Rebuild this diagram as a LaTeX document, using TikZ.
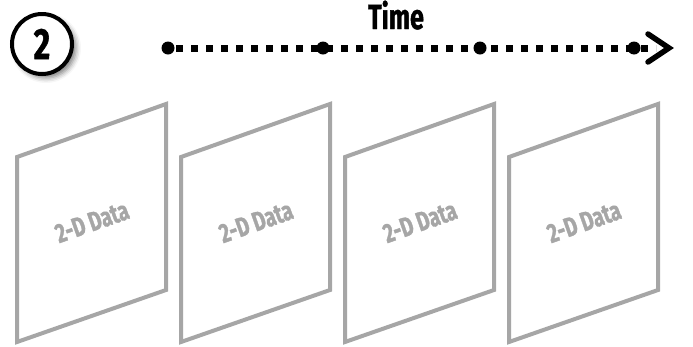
\documentclass[tikz,border=0pt]{standalone}
\usepackage{fontspec}
\newfontfamily\condfont[FakeStretch=0.72]{Fira Sans}
\newfontfamily\heavyfont[FakeStretch=0.72,FakeBold=1.2]{Fira Sans}
\usetikzlibrary{shadows.blur}
\definecolor{panelgray}{HTML}{A6A6A6}
\tikzset{
  panel/.style={draw=panelgray, line width=4pt, line join=miter, fill=white},
  paneltext/.style={text=panelgray, font=\heavyfont\bfseries\fontsize{27}{28}\selectfont, rotate=19.5, inner sep=0pt},
  bigdot/.style={coordinate},
}
\begin{document}
\begin{tikzpicture}[x=1pt,y=-1pt]
\useasboundingbox (0,0) rectangle (693,346);
% numbered badge
\node[circle, draw=black, line width=4pt, fill=white, minimum size=60pt, inner sep=0pt,
      blur shadow={shadow xshift=4pt, shadow yshift=-4pt, shadow blur radius=5pt, shadow opacity=50},
      font=\heavyfont\bfseries\fontsize{44}{44}\selectfont] (badge) at (42,44) {2};
% time axis
\node[font=\heavyfont\bfseries\fontsize{35}{36}\selectfont, anchor=base] (time) at (396,29) {Time};
\coordinate (t0) at (168,48);
\coordinate (tend) at (656,48);
\draw[line width=7pt, dash pattern=on 7pt off 8pt, dash phase=-8pt] (t0) -- (tend);
\node[bigdot] (d1) at (168,48) {};
\node[bigdot] (d2) at (323,48) {};
\node[bigdot] (d3) at (480,48) {};
\node[bigdot] (d4) at (634,48) {};
\foreach \d in {d1,d2,d3,d4}{\fill (\d) circle (6.5pt);}
\coordinate (tip) at (669,48);
\draw[line width=5.5pt, line cap=round, line join=miter] (648,34) -- (tip) -- (648,62);
% panels
\foreach \x/\n in {17/1,181/2,345/3,509/4}{
  \draw[panel] (\x,157) -- (\x+149,104) -- (\x+149,290) -- (\x,342) -- cycle;
  \node[paneltext] (p\n) at (\x+75,222) {2-D Data};
}
\end{tikzpicture}
\end{document}
